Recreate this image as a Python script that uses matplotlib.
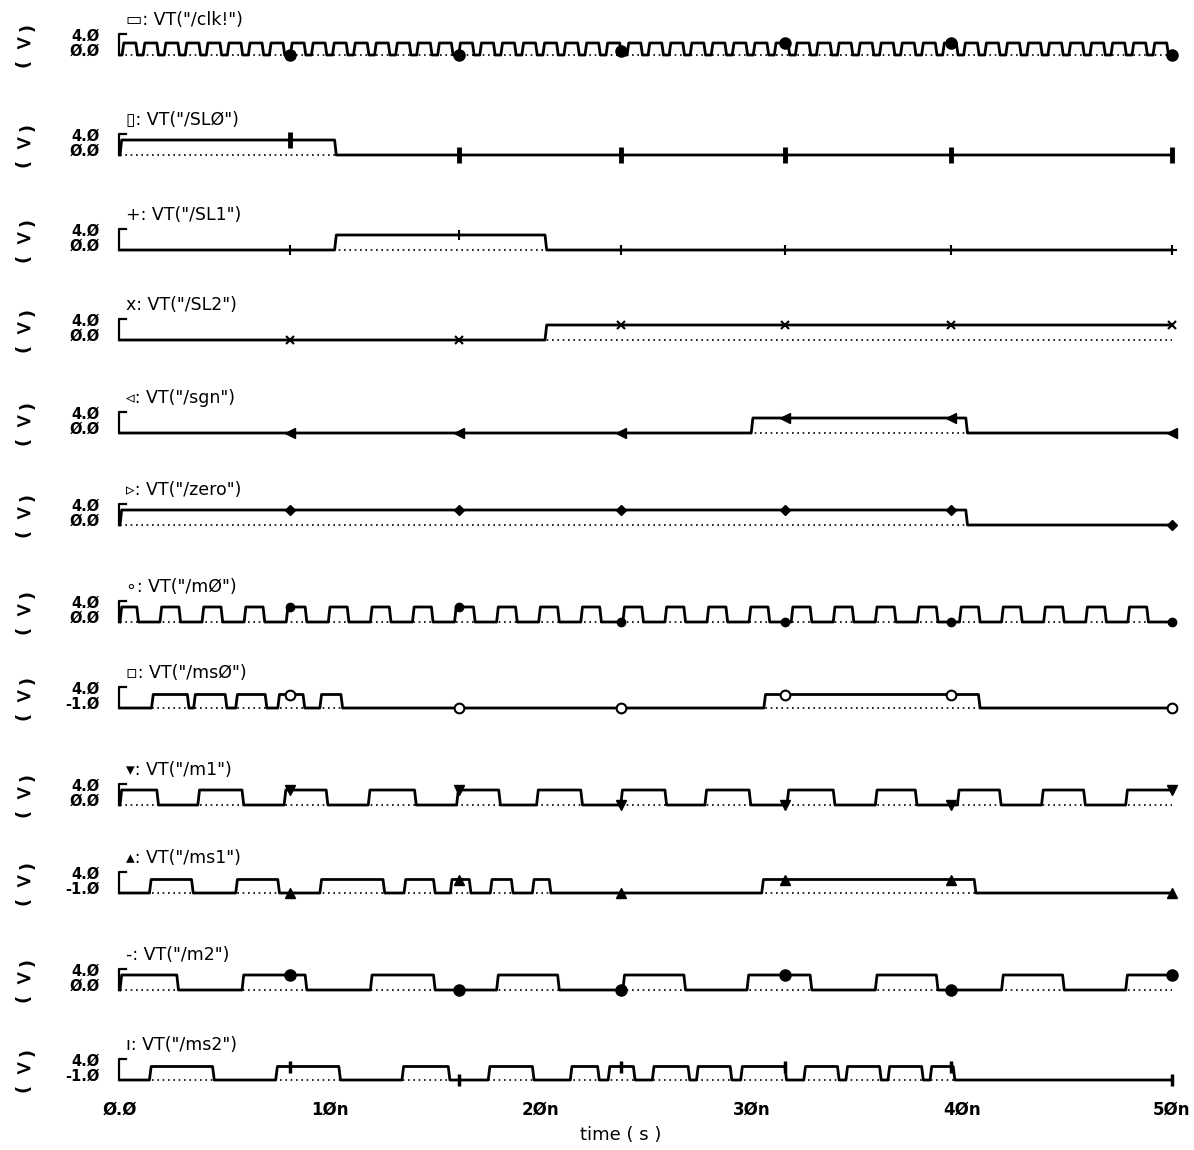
import numpy as np
import matplotlib
matplotlib.use("Agg")
import matplotlib.pyplot as plt

# signal names, top to bottom
names = ['/clk!', '/SLØ', '/SL1', '/SL2', '/sgn', '/zero',
         '/mØ', '/msØ', '/m1', '/ms1', '/m2', '/ms2']
tags = ['▭', '▯', '+', 'x', '◃', '▹', '∘', '▫', '▾', '▴', '-', 'ı']
low_labels = ['Ø.Ø'] * 7 + ['-1.Ø', 'Ø.Ø', '-1.Ø', 'Ø.Ø', '-1.Ø']

# pulse on / off times (ns)
clk_on = [0.1, 1.1, 2.1, 3.1, 4.1, 5.1, 6.1, 7.1, 8.1, 9.1,
          10.1, 11.1, 12.1, 13.1, 14.1, 15.1, 16.1, 17.1, 18.1, 19.1,
          20.1, 21.1, 22.1, 23.1, 24.1, 25.1, 26.1, 27.1, 28.1, 29.1,
          30.1, 31.1, 32.1, 33.1, 34.1, 35.1, 36.1, 37.1, 38.1, 39.1,
          40.1, 41.1, 42.1, 43.1, 44.1, 45.1, 46.1, 47.1, 48.1, 49.1]
clk_off = [0.75, 1.75, 2.75, 3.75, 4.75, 5.75, 6.75, 7.75, 8.75, 9.75,
           10.75, 11.75, 12.75, 13.75, 14.75, 15.75, 16.75, 17.75, 18.75, 19.75,
           20.75, 21.75, 22.75, 23.75, 24.75, 25.75, 26.75, 27.75, 28.75, 29.75,
           30.75, 31.75, 32.75, 33.75, 34.75, 35.75, 36.75, 37.75, 38.75, 39.75,
           40.75, 41.75, 42.75, 43.75, 44.75, 45.75, 46.75, 47.75, 48.75, 49.75]
sl0_on, sl0_off = [0.0], [10.2]
sl1_on, sl1_off = [10.2], [20.2]
sl2_on, sl2_off = [20.2], [50.0]
sgn_on, sgn_off = [30.0], [40.2]
zero_on, zero_off = [0.0], [40.2]
m0_on = [0.0, 1.9, 3.9, 5.9, 7.9, 9.9, 11.9, 13.9, 15.9, 17.9, 19.9, 21.9,
         23.9, 25.9, 27.9, 29.9, 31.9, 33.9, 35.9, 37.9, 39.9, 41.9, 43.9,
         45.9, 47.9]
m0_off = [0.8, 2.8, 4.8, 6.8, 8.8, 10.8, 12.8, 14.8, 16.8, 18.8, 20.8, 22.8,
          24.8, 26.8, 28.8, 30.8, 32.8, 34.8, 36.8, 38.8, 40.8, 42.8, 44.8,
          46.8, 48.8]
ms0_on = [1.5, 3.5, 5.5, 7.5, 9.5, 30.6]
ms0_off = [3.2, 5.0, 6.9, 8.7, 10.5, 40.8]
m1_on = [0.0, 3.7, 7.8, 11.8, 16.0, 19.8, 23.8, 27.8, 31.7, 35.9, 39.8, 43.8, 47.8]
m1_off = [1.75, 5.8, 9.8, 14.0, 18.0, 21.9, 25.9, 29.9, 33.9, 37.8, 41.8, 45.8, 50.0]
ms1_on = [1.4, 5.5, 9.5, 13.5, 15.7, 17.6, 19.6, 30.5]
ms1_off = [3.4, 7.5, 12.5, 14.9, 16.6, 18.6, 20.4, 40.6]
m2_on = [0.0, 5.8, 11.9, 17.9, 23.9, 29.8, 35.9, 41.9, 47.8]
m2_off = [2.7, 8.8, 14.9, 20.8, 26.8, 32.8, 38.8, 44.8, 50.0]
ms2_on = [1.4, 7.4, 13.4, 17.5, 21.4, 23.2, 25.3, 27.4, 29.5, 32.5, 34.5, 36.5, 38.5]
ms2_off = [4.4, 10.4, 15.6, 19.6, 22.7, 24.4, 27.0, 29.0, 31.6, 34.1, 36.1, 38.1, 39.6]

ons = [clk_on, sl0_on, sl1_on, sl2_on, sgn_on, zero_on, m0_on, ms0_on, m1_on, ms1_on, m2_on, ms2_on]
offs = [clk_off, sl0_off, sl1_off, sl2_off, sgn_off, zero_off, m0_off, ms0_off, m1_off, ms1_off, m2_off, ms2_off]
levels = [3.2, 4.0, 4.0, 4.0, 4.0, 4.0, 4.0, 3.6, 4.0, 3.6, 4.0, 3.6]

marker_t = [8.1, 16.1, 23.8, 31.6, 39.5, 50.0]
mstyles = [dict(marker='o', ms=8), dict(marker='|', ms=11, mew=3.5),
           dict(marker='+', ms=7, mew=1.5), dict(marker='x', ms=6, mew=1.5),
           dict(marker='<', ms=7), dict(marker='D', ms=5),
           dict(marker='o', ms=6), dict(marker='o', ms=7, mfc='white', mew=1.5),
           dict(marker='v', ms=7), dict(marker='^', ms=7),
           dict(marker='o', ms=8), dict(marker='|', ms=9, mew=2.5)]

# pixel layout
W, H = 1194, 1150
bases = [55, 155, 250, 340, 433, 525, 622, 708, 805, 893, 990, 1080]


def wave(on, off, h, r=0.08):
    t, v = [0.0], [0.0]
    for a, b in zip(on, off):
        t += [a, a + r, b]
        v += [0.0, h, h]
        if b < 50:
            t.append(min(b + r, 50))
            v.append(0.0)
    if t[-1] < 50:
        t.append(50.0)
        v.append(0.0)
    return np.array(t), np.array(v)


fig = plt.figure(figsize=(W / 100, H / 100), dpi=100)
fig.patch.set_facecolor('white')

for i in range(12):
    b = bases[i]
    ax = fig.add_axes([120 / W, (H - b - 30) / H, 1052 / W, 60 / H])
    ax.set_xlim(0, 50)
    ax.set_ylim(-8, 8)
    ax.axis('off')
    t, v = wave(ons[i], offs[i], levels[i])
    ax.plot([0, 50], [0, 0], color='k', lw=1.2, ls=(0, (1, 2.2)), clip_on=False)
    ax.plot(t, v, color='k', lw=2.0, clip_on=False, solid_joinstyle='round')
    # start bracket
    ax.plot([0.3, -0.05, -0.05], [5.6, 5.6, 0], color='k', lw=1.6, clip_on=False)
    my = np.interp(marker_t, t, v)
    ax.plot(marker_t, my, ls='none', color='k', clip_on=False, **mstyles[i])
    # row texts
    ax.text(0.3, 9.3, tags[i] + ': VT("' + names[i] + '")', fontsize=12.5,
            ha='left', va='center', clip_on=False)
    ax.text(-0.95, 4.9, '4.Ø', fontsize=10.5, fontweight='bold', ha='right',
            va='center', clip_on=False)
    ax.text(-0.95, 1.0, low_labels[i], fontsize=10.5, fontweight='bold',
            ha='right', va='center', clip_on=False)
    ax.text(-4.6, 7.0, '(', rotation=-90, fontsize=13, fontweight='bold',
            ha='center', va='center', clip_on=False)
    ax.text(-4.6, 2.7, '>', fontsize=15, fontweight='bold', ha='center',
            va='center', clip_on=False)
    ax.text(-4.6, -2.2, '(', rotation=90, fontsize=13, fontweight='bold',
            ha='center', va='center', clip_on=False)

# time axis labels on bottom row
xt = [0, 10, 20, 30, 40, 50]
xt_labels = ['Ø.Ø', '1Øn', '2Øn', '3Øn', '4Øn', '5Øn']
for x, lab in zip(xt, xt_labels):
    ax.text(x, -8.0, lab, fontsize=12, fontweight='bold', ha='center',
            va='center', clip_on=False)
ax.text(23.8, -14.6, 'time ( s )', fontsize=13, ha='center', va='center',
        clip_on=False)

fig.savefig('out.png', dpi=100, facecolor='white')
